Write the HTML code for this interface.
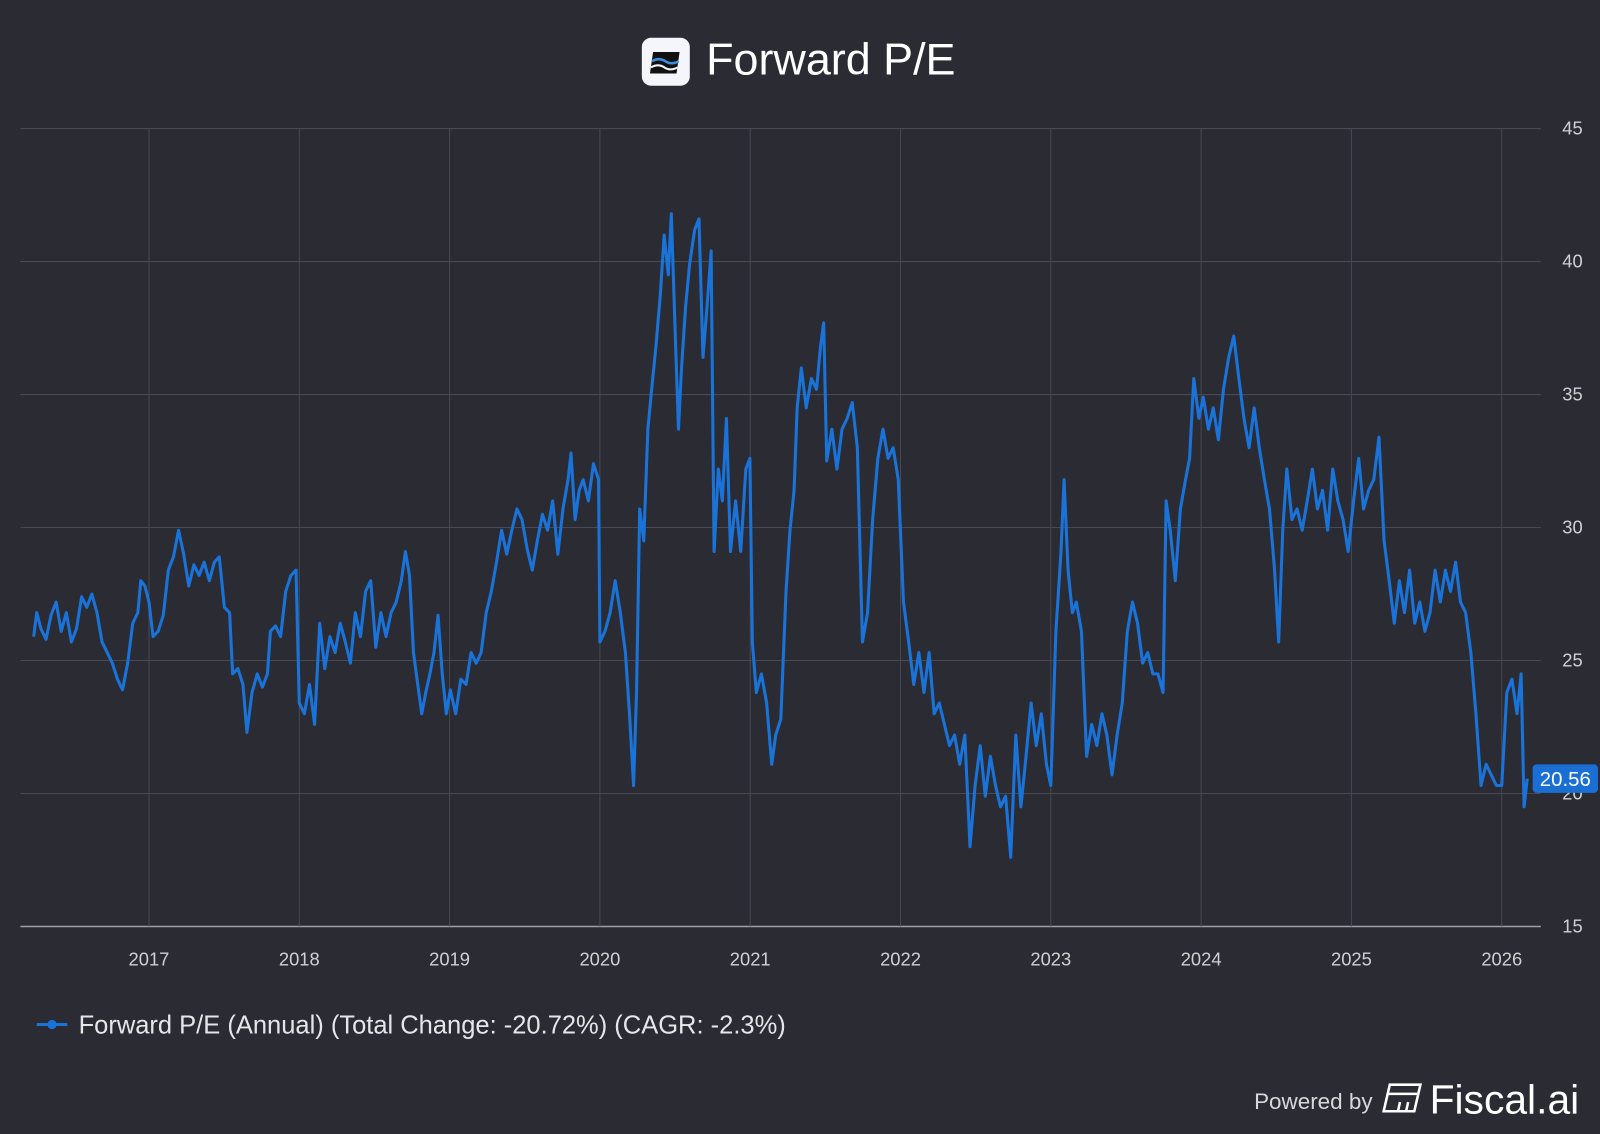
<!DOCTYPE html>
<html><head><meta charset="utf-8"><style>
html,body{margin:0;padding:0;background:#2a2b33;}
body{width:1600px;height:1134px;overflow:hidden;font-family:"Liberation Sans",Arial,sans-serif;}
svg{display:block}
</style></head><body>
<svg id="chart" width="1600" height="1134">
<rect x="0" y="0" width="1600" height="1134" fill="#2a2b33"/>
<g transform="scale(1.020408)">
<g>
<rect x="629" y="37" width="47" height="47" rx="9" fill="#f4f6fb"/>
<path d="M640 51 L666 51 L663 72 L637 72 Z" fill="#111"/>
<path d="M639 60 Q646 56 652 60 T665 60" stroke="#3b8fe0" stroke-width="2.5" fill="none"/>
<path d="M638 66 Q645 62 651 66 T664 66" stroke="#f4f6fb" stroke-width="2" fill="none"/>
<text x="692" y="73" font-size="44" fill="#ffffff">Forward P/E</text>
</g>
<g id="grid"></g>
<g id="plot"></g>
<g>
<line x1="36" y1="1004" x2="66" y2="1004" stroke="#1a73d9" stroke-width="3"/>
<circle cx="51" cy="1004" r="4.5" fill="#1a73d9"/>
<text x="77" y="1013" font-size="25" fill="#e6e6ea">Forward P/E (Annual) (Total Change: -20.72%) (CAGR: -2.3%)</text>
</g>
<g>
<text x="1229" y="1087" font-size="22" fill="#d8d8dc">Powered by</text>
<g stroke="#ffffff" stroke-width="2.5" fill="none">
<path d="M1362 1063 L1392 1063 L1386 1089 L1356 1089 Z"/>
<line x1="1360" y1="1072" x2="1390" y2="1072"/>
<line x1="1372" y1="1080" x2="1370" y2="1089"/>
<line x1="1380" y1="1080" x2="1378" y2="1089"/>
</g>
<text x="1401" y="1091" font-size="40" fill="#ffffff">Fiscal.ai</text>
</g>
</g>
</svg>
<script>
const yTicks=[15,20,25,30,35,40,45];
const xTickYears=[2017,2018,2019,2020,2021,2022,2023,2024,2025,2026];
const dates=[2016.233,2016.253,2016.281,2016.315,2016.348,2016.382,2016.416,2016.450,2016.484,2016.518,2016.552,2016.586,2016.620,2016.654,2016.688,2016.722,2016.756,2016.790,2016.824,2016.858,2016.892,2016.926,2016.946,2016.973,2017.000,
2017.027,2017.061,2017.095,2017.129,2017.163,2017.197,2017.231,2017.265,2017.299,2017.333,2017.367,2017.401,2017.435,2017.468,2017.502,2017.536,2017.557,2017.591,2017.625,2017.652,2017.686,2017.720,2017.754,2017.788,2017.808,2017.842,2017.876,2017.910,2017.944,2017.978,
2018.000,2018.034,2018.068,2018.102,2018.136,2018.170,2018.204,2018.238,2018.272,2018.306,2018.340,2018.373,2018.407,2018.441,2018.475,2018.509,2018.543,2018.577,2018.611,2018.645,2018.679,2018.706,2018.733,2018.760,2018.788,2018.815,2018.842,2018.869,2018.896,2018.923,2018.951,2018.978,
2019.005,2019.041,2019.075,2019.109,2019.143,2019.177,2019.210,2019.244,2019.278,2019.312,2019.346,2019.380,2019.414,2019.448,2019.482,2019.516,2019.550,2019.584,2019.618,2019.652,2019.686,2019.720,2019.754,2019.788,2019.808,2019.835,2019.862,2019.889,2019.923,2019.957,2019.991,
2020.000,2020.034,2020.068,2020.102,2020.136,2020.170,2020.197,2020.224,2020.244,2020.265,2020.292,2020.319,2020.346,2020.373,2020.401,2020.428,2020.455,2020.475,2020.502,2020.523,2020.543,2020.570,2020.597,2020.631,2020.659,2020.686,2020.713,2020.740,2020.760,2020.788,2020.815,2020.842,2020.869,2020.903,2020.937,2020.971,2020.998,
2021.014,2021.041,2021.075,2021.109,2021.143,2021.170,2021.204,2021.238,2021.265,2021.292,2021.312,2021.340,2021.373,2021.407,2021.441,2021.468,2021.489,2021.509,2021.543,2021.577,2021.611,2021.645,2021.679,2021.713,2021.747,2021.781,2021.815,2021.849,2021.883,2021.917,2021.951,2021.985,
2022.020,2022.054,2022.088,2022.122,2022.156,2022.190,2022.224,2022.258,2022.292,2022.326,2022.360,2022.394,2022.428,2022.462,2022.496,2022.530,2022.564,2022.598,2022.632,2022.665,2022.699,2022.733,2022.767,2022.801,2022.835,2022.869,2022.903,2022.937,2022.971,
2023.000,2023.034,2023.068,2023.088,2023.115,2023.143,2023.170,2023.204,2023.238,2023.272,2023.306,2023.340,2023.373,2023.407,2023.441,2023.475,2023.509,2023.543,2023.577,2023.611,2023.645,2023.679,2023.713,2023.747,2023.767,2023.794,2023.828,2023.862,2023.896,2023.923,2023.951,2023.985,
2024.014,2024.048,2024.081,2024.115,2024.149,2024.183,2024.217,2024.251,2024.285,2024.319,2024.353,2024.387,2024.421,2024.455,2024.489,2024.516,2024.543,2024.570,2024.604,2024.638,2024.672,2024.706,2024.740,2024.774,2024.808,2024.842,2024.876,2024.910,2024.944,2024.978,
2025.014,2025.048,2025.081,2025.115,2025.149,2025.183,2025.217,2025.251,2025.285,2025.319,2025.353,2025.387,2025.421,2025.455,2025.489,2025.523,2025.557,2025.591,2025.625,2025.659,2025.693,2025.726,2025.760,2025.794,2025.828,2025.862,2025.896,2025.930,2025.964,
2026.000,2026.034,2026.068,2026.102,2026.129,2026.149,2026.170];
const values=[25.9,26.8,26.2,25.8,26.7,27.2,26.1,26.8,25.7,26.2,27.4,27.0,27.5,26.8,25.7,25.3,24.9,24.3,23.9,24.9,26.4,26.8,28.0,27.8,27.2,
25.9,26.1,26.7,28.4,28.9,29.9,29.0,27.8,28.6,28.2,28.7,28.0,28.7,28.9,27.0,26.8,24.5,24.7,24.1,22.3,23.8,24.5,24.0,24.5,26.1,26.3,25.9,27.6,28.2,28.4,
23.4,23.0,24.1,22.6,26.4,24.7,25.9,25.3,26.4,25.7,24.9,26.8,25.9,27.6,28.0,25.5,26.8,25.9,26.8,27.2,28.0,29.1,28.2,25.3,24.1,23.0,23.8,24.5,25.3,26.7,24.5,23.0,
23.9,23.0,24.3,24.1,25.3,24.9,25.3,26.8,27.6,28.7,29.9,29.0,29.9,30.7,30.3,29.2,28.4,29.5,30.5,29.9,31.0,29.0,30.7,31.8,32.8,30.3,31.4,31.8,31.0,32.4,31.8,
25.7,26.1,26.8,28.0,26.8,25.3,23.0,20.3,23.8,30.7,29.5,33.7,35.3,36.8,38.7,41.0,39.5,41.8,37.2,33.7,36.0,38.3,39.9,41.2,41.6,36.4,38.3,40.4,29.1,32.2,31.0,34.1,29.1,31.0,29.1,32.2,32.6,
25.7,23.8,24.5,23.4,21.1,22.2,22.8,27.6,29.9,31.4,34.5,36.0,34.5,35.6,35.2,36.8,37.7,32.5,33.7,32.2,33.7,34.1,34.7,33.0,25.7,26.8,30.3,32.6,33.7,32.6,33.0,31.8,
27.2,25.7,24.1,25.3,23.8,25.3,23.0,23.4,22.6,21.8,22.2,21.1,22.2,18.0,20.3,21.8,19.9,21.4,20.3,19.5,19.9,17.6,22.2,19.5,21.4,23.4,21.8,23.0,21.1,
20.3,26.1,29.1,31.8,28.4,26.8,27.2,26.1,21.4,22.6,21.8,23.0,22.2,20.7,22.2,23.4,26.1,27.2,26.4,24.9,25.3,24.5,24.5,23.8,31.0,29.9,28.0,30.7,31.8,32.6,35.6,34.1,
34.9,33.7,34.5,33.3,35.2,36.4,37.2,35.6,34.1,33.0,34.5,33.0,31.8,30.7,28.4,25.7,29.9,32.2,30.3,30.7,29.9,31.0,32.2,30.7,31.4,29.9,32.2,31.0,30.3,29.1,
31.0,32.6,30.7,31.4,31.8,33.4,29.5,28.0,26.4,28.0,26.8,28.4,26.4,27.2,26.1,26.8,28.4,27.2,28.4,27.6,28.7,27.2,26.8,25.3,23.0,20.3,21.1,20.7,20.3,
20.3,23.8,24.3,23.0,24.5,19.5,20.56];
const lastLabel="20.56";
const NS="http://www.w3.org/2000/svg";
const L=20,R=1510,T=126,B=908;
function yS(v){return B-(v-15)/(45-15)*(B-T);}
function xS(d){return 146+(d-2017)*147.3;}
const grid=document.getElementById('grid'),plot=document.getElementById('plot');
function mk(tag,attrs,parent){const e=document.createElementNS(NS,tag);for(const k in attrs)e.setAttribute(k,attrs[k]);parent.appendChild(e);return e;}
yTicks.forEach(v=>{
  const y=yS(v);
  const ln=mk('line',{x1:L,x2:R,y1:y,y2:y,stroke:v===15?'#a0a1a8':'#474955','stroke-width':v===15?1.5:1},grid);
  
  
  const t=mk('text',{x:1541,y:y+6,'font-size':18,fill:'#d0d0d4','text-anchor':'middle'},grid);
  t.textContent=v;
  
  
});
xTickYears.forEach(yr=>{
  const x=xS(yr);
  const ln=mk('line',{x1:x,x2:x,y1:T,y2:B,stroke:'#474955','stroke-width':1},grid);
  
  
  const t=mk('text',{x:x,y:946,'font-size':18,fill:'#d0d0d4','text-anchor':'middle'},grid);
  t.textContent=yr;
  
  
});
let d='';
dates.forEach((dt,i)=>{d+=(i?'L':'M')+xS(dt).toFixed(1)+' '+yS(values[i]).toFixed(1);});
const path=mk('path',{d:d,fill:'none',stroke:'#1a73d9','stroke-width':3,'stroke-linejoin':'round'},plot);


const ly=yS(values[values.length-1]);
const badge=mk('rect',{x:1502,y:ly-14,width:64,height:28,rx:4,fill:'#1a6fd4'},plot);


const bt=mk('text',{x:1534,y:ly+7,'font-size':20,fill:'#ffffff','text-anchor':'middle'},plot);
bt.textContent=lastLabel;


</script>
</body></html>
